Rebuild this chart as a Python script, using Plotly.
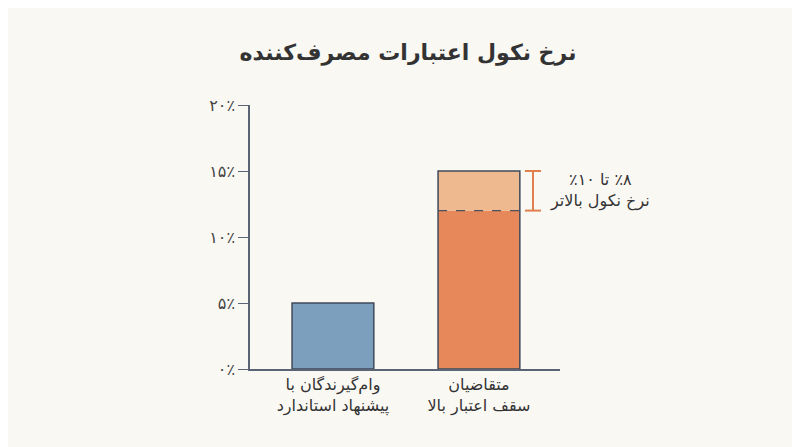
import plotly.graph_objects as go

categories = ["وام‌گیرندگان با<br>پیشنهاد استاندارد", "متقاضیان<br>سقف اعتبار بالا"]
standard_rate = [5]
high_limit_base = [12]
high_limit_extra = [3]
y_tickvals = [0, 5, 10, 15, 20]
y_ticktext = ["۰٪", "۵٪", "۱۰٪", "۱۵٪", "۲۰٪"]
annotation_lines = ["\u200f٪۸ تا ۱۰٪\u200f", "نرخ نکول بالاتر"]
title_text = "نرخ نکول اعتبارات مصرف‌کننده"

xpos = [0, 1]
bw = 0.56
edge = "#3f4a5a"
font_fa = "DejaVu Sans, Noto Sans, sans-serif"

fig = go.Figure()
fig.add_trace(go.Bar(x=[xpos[0]], y=standard_rate, width=bw,
                     marker=dict(color="#7b9fbd", line=dict(color=edge, width=1.5))))
fig.add_trace(go.Bar(x=[xpos[1]], y=high_limit_base, base=[0], width=bw,
                     marker=dict(color="#e6885a", line=dict(width=0))))
fig.add_trace(go.Bar(x=[xpos[1]], y=high_limit_extra, base=high_limit_base, width=bw,
                     marker=dict(color="#efb990", line=dict(width=0))))
total = [high_limit_base[0] + high_limit_extra[0]]
fig.add_trace(go.Bar(x=[xpos[1]], y=total, base=[0], width=bw,
                     marker=dict(color="rgba(0,0,0,0)", line=dict(color=edge, width=1.5))))

# dashed divider
fig.add_shape(type="line", x0=xpos[1] - bw / 2, x1=xpos[1] + bw / 2,
              y0=high_limit_base[0], y1=high_limit_base[0], xref="x", yref="y",
              line=dict(color="#4a5260", width=1.3, dash="dash"))
# bracket
bx = xpos[1] + 0.37
cap = 0.055
fig.add_shape(type="line", x0=bx, x1=bx, y0=high_limit_base[0], y1=total[0],
              line=dict(color="#e0804f", width=2))
for yv in (high_limit_base[0], total[0]):
    fig.add_shape(type="line", x0=bx - cap, x1=bx + cap, y0=yv, y1=yv,
                  line=dict(color="#e0804f", width=2))

fig.add_annotation(x=1.129, y=(high_limit_base[0] + total[0]) / 2,
                   xref="paper", yref="y", text="<br>".join(annotation_lines),
                   showarrow=False, font=dict(family=font_fa, size=16, color="#333333"),
                   align="center", xanchor="center", yanchor="middle")

fig.update_layout(
    width=800, height=447,
    barmode="overlay",
    showlegend=False,
    paper_bgcolor="#faf8f3",
    plot_bgcolor="#faf8f3",
    margin=dict(l=242, r=248, t=97, b=86),
    title=dict(text="<b>" + title_text + "</b>", x=0.5, xanchor="center", y=0.901, yanchor="middle",
               font=dict(family=font_fa, size=22, color="#333333")),
    xaxis=dict(range=[-0.568, 1.555], tickvals=xpos, ticktext=categories,
               showgrid=False, zeroline=False, showline=True, linecolor="#5a6474", linewidth=1.5,
               ticks="", tickfont=dict(family=font_fa, size=16, color="#333333")),
    yaxis=dict(range=[0, 20], tickvals=y_tickvals, ticktext=y_ticktext,
               showgrid=False, zeroline=False, showline=True, linecolor="#5a6474", linewidth=1.5,
               ticks="outside", ticklen=10, tickcolor="#5a6474", tickwidth=1.3,
               tickfont=dict(family=font_fa, size=16, color="#444444")),
)

fig.write_html("out.html")
